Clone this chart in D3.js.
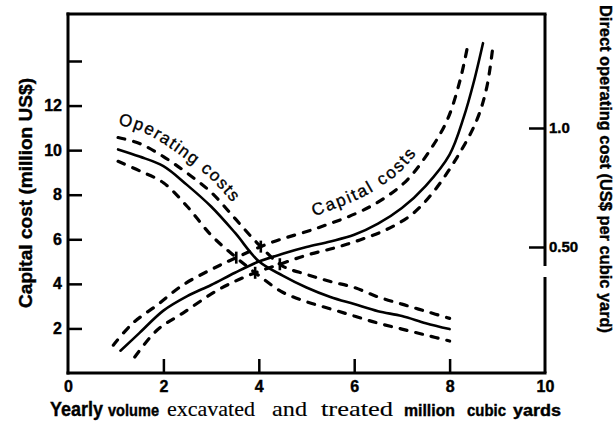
<!DOCTYPE html>
<html>
<head>
<meta charset="utf-8">
<script src="https://cdn.jsdelivr.net/npm/d3@7"></script>
<style>
  body { margin: 0; background: #fff; }
  svg { display: block; }
</style>
</head>
<body>
<svg id="chart" width="616" height="424"></svg>
<script>
// Axis ticks and labels
const volumeTicks = [0, 2, 4, 6, 8, 10];          // million cubic yards per year
const capitalTicks = [2, 4, 6, 8, 10, 12, 14];    // million US$
const capitalLabels = [2, 4, 6, 8, 10, 12];
const operatingTicks = [0.5, 1.0];                // US$ per cubic yard
const operatingLabels = ["0.50", "1.0"];

// Capital cost (million US$): central estimate and its upper / lower bounds
const capitalX     = [1.1, 1.5, 2.0, 2.5, 3.0, 3.5, 4.0, 4.5, 5.0, 5.5, 6.0, 6.5, 7.0, 7.5, 8.0, 8.3, 8.5, 8.7];
const capitalY     = [1.0, 1.8, 2.8, 3.45, 3.95, 4.5, 5.0, 5.35, 5.65, 5.9, 6.2, 6.7, 7.4, 8.4, 9.8, 11.5, 13.0, 14.8];
const capitalHighX = [0.95, 1.36, 1.87, 2.41, 2.98, 3.5, 4.23, 5.22, 6.06, 6.6, 7.11, 7.59, 7.95, 8.22, 8.39];
const capitalHighY = [1.25, 2.24, 3.05, 3.95, 4.62, 5.15, 5.83, 6.5, 7.18, 7.8, 8.66, 10.0, 11.35, 13.14, 14.8];
const capitalLowX  = [1.4, 1.87, 2.41, 3.14, 3.75, 4.4, 5.01, 5.6, 6.12, 6.69, 7.2, 7.65, 8.16, 8.57, 8.78, 8.91];
const capitalLowY  = [0.72, 1.93, 2.69, 3.72, 4.35, 4.85, 5.29, 5.62, 5.97, 6.45, 7.1, 8.1, 9.69, 11.35, 12.83, 14.7];

// Direct operating cost (US$ per cubic yard): central estimate and bounds
const operatingX     = [1.05, 1.5, 2.0, 2.5, 3.0, 3.5, 4.0, 4.5, 5.0, 5.5, 6.0, 6.5, 7.0, 7.5, 8.0];
const operatingY     = [0.91, 0.88, 0.84, 0.76, 0.67, 0.56, 0.44, 0.38, 0.33, 0.29, 0.26, 0.23, 0.21, 0.18, 0.155];
const operatingHighY = [0.96, 0.935, 0.88, 0.81, 0.73, 0.62, 0.51, 0.42, 0.385, 0.355, 0.33, 0.29, 0.26, 0.23, 0.20];
const operatingLowY  = [0.86, 0.82, 0.77, 0.67, 0.55, 0.46, 0.38, 0.31, 0.27, 0.24, 0.21, 0.18, 0.155, 0.13, 0.105];

const svg = d3.select("#chart");
const SANS = "'Liberation Sans', Arial, Helvetica, sans-serif";
const SERIF = "'Liberation Serif', 'Times New Roman', serif";

const plotLeft = 68, plotRight = 545, plotTop = 14, plotBottom = 373;
const x = d3.scaleLinear().domain([0, 10]).range([plotLeft, plotRight]);
const yCap = d3.scaleLinear().domain([0, 14]).range([plotBottom, 61]);
const yOp = d3.scaleLinear().domain([0, 1]).range([366, 128]);

// ---- frame (right side has a small break) ----
const frame = svg.append("g").attr("stroke", "#000").attr("stroke-width", 3).attr("stroke-linecap", "square");
frame.append("line").attr("x1", plotLeft).attr("y1", plotTop).attr("x2", plotRight).attr("y2", plotTop);
frame.append("line").attr("x1", plotLeft).attr("y1", plotTop).attr("x2", plotLeft).attr("y2", plotBottom);
frame.append("line").attr("x1", plotLeft).attr("y1", plotBottom).attr("x2", plotRight).attr("y2", plotBottom);
frame.append("line").attr("x1", plotRight).attr("y1", plotTop).attr("x2", plotRight).attr("y2", 266).attr("stroke-linecap", "butt");
frame.append("line").attr("x1", plotRight).attr("y1", 277).attr("x2", plotRight).attr("y2", plotBottom).attr("stroke-linecap", "butt");

function styleAxis(g, size) {
  g.select(".domain").remove();
  g.selectAll(".tick line").attr("stroke", "#000").attr("stroke-width", 2.5);
  g.selectAll(".tick text")
    .attr("font-family", SANS).attr("font-weight", "bold").attr("font-size", size).attr("fill", "#000")
    .attr("stroke", "#000").attr("stroke-width", 0.4);
}

// bottom axis
svg.append("g").attr("transform", `translate(0,${plotBottom})`)
  .call(d3.axisBottom(x).tickValues(volumeTicks).tickSizeInner(-14).tickSizeOuter(0).tickPadding(8).tickFormat(d3.format("d")))
  .call(g => styleAxis(g, 16))
  .call(g => g.selectAll(".tick line").attr("display", d => (d === 0 || d === 10) ? "none" : null));

// left axis (capital cost)
svg.append("g").attr("transform", `translate(${plotLeft},0)`)
  .call(d3.axisLeft(yCap).tickValues(capitalTicks).tickSizeInner(-14).tickSizeOuter(0).tickPadding(6)
    .tickFormat(d => capitalLabels.includes(d) ? d : ""))
  .call(g => styleAxis(g, 16));

// right axis (operating cost)
svg.append("g").attr("transform", `translate(${plotRight},0)`)
  .call(d3.axisRight(yOp).tickValues(operatingTicks).tickSizeInner(-16).tickSizeOuter(0).tickPadding(4)
    .tickFormat((d, i) => operatingLabels[i]))
  .call(g => styleAxis(g, 15));

// ---- axis titles ----
const heavy = t => t.attr("font-family", SANS).attr("font-weight", "bold").attr("fill", "#000")
  .attr("stroke", "#000").attr("stroke-width", 0.4);

svg.append("text").call(heavy)
  .attr("transform", `translate(32,193) rotate(-90)`)
  .attr("text-anchor", "middle").attr("font-size", 18)
  .attr("textLength", 230).attr("lengthAdjust", "spacingAndGlyphs")
  .text("Capital cost (million US$)");

svg.append("text").call(heavy)
  .attr("transform", `translate(600,5) rotate(90)`)
  .attr("font-size", 16)
  .attr("textLength", 328).attr("lengthAdjust", "spacingAndGlyphs")
  .text("Direct operating cost (US$ per cubic yard)");

const titleWords = [
  { t: "Yearly",    x0: 50,  x1: 103, fam: SANS,  w: "bold",   s: 21 },
  { t: "volume",    x0: 108, x1: 159, fam: SANS,  w: "bold",   s: 16 },
  { t: "excavated", x0: 167, x1: 255, fam: SERIF, w: "normal", s: 22 },
  { t: "and",       x0: 272, x1: 307, fam: SERIF, w: "normal", s: 22 },
  { t: "treated",   x0: 321, x1: 393, fam: SERIF, w: "normal", s: 22 },
  { t: "million",   x0: 404, x1: 455, fam: SANS,  w: "bold",   s: 16 },
  { t: "cubic",     x0: 467, x1: 506, fam: SANS,  w: "bold",   s: 16 },
  { t: "yards",     x0: 513, x1: 561, fam: SANS,  w: "bold",   s: 16 }
];
svg.append("g").selectAll("text").data(titleWords).join("text")
  .attr("x", d => d.x0).attr("y", 416)
  .attr("font-family", d => d.fam).attr("font-weight", d => d.w).attr("font-size", d => d.s)
  .attr("stroke", "#000").attr("stroke-width", d => d.w === "bold" ? 0.4 : 0.15)
  .attr("textLength", d => d.x1 - d.x0).attr("lengthAdjust", "spacingAndGlyphs")
  .text(d => d.t);

// ---- curves ----
const curve = d3.curveCatmullRom.alpha(0.5);
const zip = (xs, ys) => xs.map((v, i) => [v, ys[i]]);
const capLine = d3.line().x(d => x(d[0])).y(d => yCap(d[1])).curve(curve);
const opLine = d3.line().x(d => x(d[0])).y(d => yOp(d[1])).curve(curve);

const curves = svg.append("g").attr("fill", "none").attr("stroke", "#000").attr("stroke-linecap", "round");

function draw(d, isDashed) {
  const p = curves.append("path").attr("d", d);
  if (isDashed) { p.attr("stroke-width", 3.2).attr("stroke-dasharray", "7,9"); }
  else { p.attr("stroke-width", 2.6); }
  return p.node();
}

const capHighNode = draw(capLine(zip(capitalHighX, capitalHighY)), true);
draw(capLine(zip(capitalX, capitalY)), false);
const capLowNode = draw(capLine(zip(capitalLowX, capitalLowY)), true);
const opHighNode = draw(opLine(zip(operatingX, operatingHighY)), true);
draw(opLine(zip(operatingX, operatingY)), false);
const opLowNode = draw(opLine(zip(operatingX, operatingLowY)), true);

// ---- short vertical marks where the bounding curves cross ----
function sample(node) {
  const L = node.getTotalLength(), pts = [];
  for (let s = 0; s <= L; s += 1) { const p = node.getPointAtLength(s); pts.push([p.x, p.y]); }
  return pts;
}
function crossings(a, b) {
  const out = [];
  for (let i = 0; i < a.length - 1; i++) {
    for (let j = 0; j < b.length - 1; j++) {
      const [x1, y1] = a[i], [x2, y2] = a[i + 1], [x3, y3] = b[j], [x4, y4] = b[j + 1];
      const den = (x1 - x2) * (y3 - y4) - (y1 - y2) * (x3 - x4);
      if (Math.abs(den) < 1e-9) continue;
      const t = ((x1 - x3) * (y3 - y4) - (y1 - y3) * (x3 - x4)) / den;
      const u = -((x1 - x2) * (y1 - y3) - (y1 - y2) * (x1 - x3)) / den;
      if (t >= 0 && t <= 1 && u >= 0 && u <= 1) out.push([x1 + t * (x2 - x1), y1 + t * (y2 - y1)]);
    }
  }
  return out;
}
const sCapHigh = sample(capHighNode), sCapLow = sample(capLowNode);
const sOpHigh = sample(opHighNode), sOpLow = sample(opLowNode);
const marks = [].concat(
  crossings(sCapHigh, sOpHigh), crossings(sCapHigh, sOpLow),
  crossings(sCapLow, sOpHigh), crossings(sCapLow, sOpLow)
);
svg.append("g").attr("stroke", "#000").attr("stroke-width", 2.6)
  .selectAll("line").data(marks).join("line")
  .attr("x1", d => d[0]).attr("x2", d => d[0])
  .attr("y1", d => d[1] - 6).attr("y2", d => d[1] + 6);

// ---- curve labels: glyphs set one by one along a guide above the upper bound ----
const guides = svg.append("g").attr("fill", "none").attr("stroke", "none");
const opGuide = guides.append("path")
  .attr("d", d3.line().x(d => x(d[0])).y(d => yOp(d[1]) - 13).curve(curve)(zip(operatingX, operatingHighY)))
  .node();
const capGuide = guides.append("path")
  .attr("d", d3.line().x(d => x(d[0]) - 3).y(d => yCap(d[1]) - 12).curve(curve)(
    zip(capitalHighX, capitalHighY).filter(d => d[0] >= 5.2)))
  .node();

function labelAlong(node, str, size, spacing) {
  const L = node.getTotalLength();
  const g = svg.append("g").attr("font-family", SANS).attr("font-size", size)
    .attr("fill", "#000").attr("stroke", "#000").attr("stroke-width", 0.35);
  let s = 0;
  for (const ch of str) {
    if (ch === " ") { s += size * 0.3 + spacing; continue; }
    const t = g.append("text").attr("text-anchor", "middle").text(ch);
    const w = t.node().getComputedTextLength();
    const m = Math.min(s + w / 2, L - 1);
    const p = node.getPointAtLength(m), q = node.getPointAtLength(m + 1);
    const ang = Math.atan2(q.y - p.y, q.x - p.x) * 180 / Math.PI;
    t.attr("transform", `translate(${p.x},${p.y}) rotate(${ang})`);
    s += w + spacing;
  }
}
labelAlong(opGuide, "Operating costs", 17, 1.5);
labelAlong(capGuide, "Capital costs", 17, 2.0);
</script>
</body>
</html>
